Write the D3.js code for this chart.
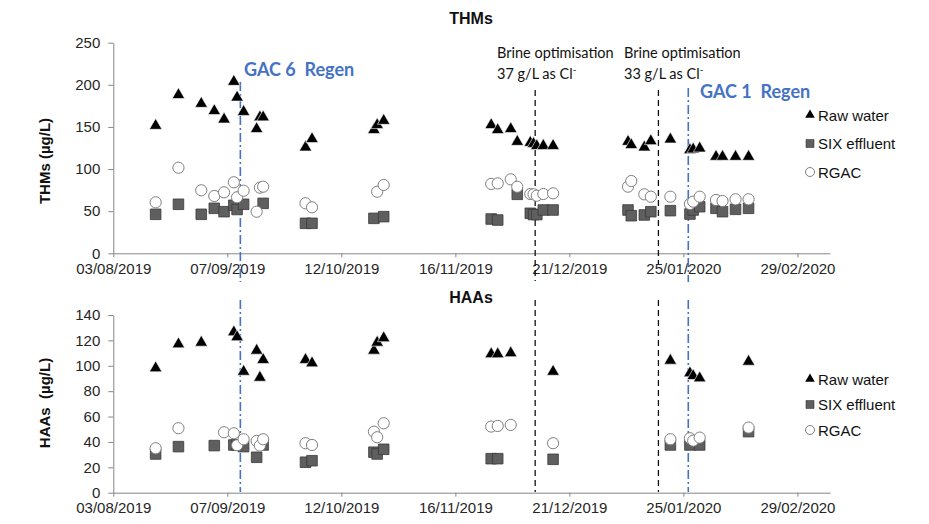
<!DOCTYPE html>
<html>
<head>
<meta charset="utf-8">
<script src="https://cdn.jsdelivr.net/npm/d3@7"></script>
<style>
  body { margin: 0; background: #fff; }
  svg { display: block; }
</style>
</head>
<body>
<div id="chart"></div>
<script>
// ---- data ----
const thmDates = ["2019-08-16","2019-08-23","2019-08-30","2019-09-03","2019-09-06","2019-09-09","2019-09-10",
  "2019-09-12","2019-09-16","2019-09-17","2019-09-18","2019-10-01","2019-10-03","2019-10-22","2019-10-23",
  "2019-10-25","2019-11-27","2019-11-29","2019-12-03","2019-12-05","2019-12-09","2019-12-10","2019-12-11",
  "2019-12-13","2019-12-16","2020-01-08","2020-01-09","2020-01-13","2020-01-15","2020-01-21","2020-01-27",
  "2020-01-28","2020-01-30","2020-02-04","2020-02-06","2020-02-10","2020-02-14"];
const thmRaw = [151.5,188,177.6,169,159,203.7,185,168,147.6,161.5,161.5,125.8,135.7,146.4,152.3,
  157.4,152.3,146.4,147.6,132.5,131.3,130,127.4,127.6,127.6,132.5,128.6,125.8,133.3,135.3,122.6,
  123.4,124.6,114.7,114.7,114.7,114.7];
const thmSix = [46.3,58.2,46.3,53.4,49.4,57,52,58.2,null,null,59.3,35.6,35.6,41.5,null,
  43.5,40.7,39.5,null,70,47.5,46,46,51.4,51.4,51.4,44.6,45.5,49.4,50.6,46.6,
  51.4,55.3,53.4,49.4,52.2,53.4];
const thmRgac = [60.5,101.6,74.8,68,72.4,84.3,66.5,74.3,49.4,77.9,79.1,59.4,54.6,null,73.1,
  81.1,82.3,83,87.8,79,70.4,70,68.4,70.4,71.2,79.1,85.8,70,67.2,67.2,58.5,
  61.3,67.2,63.3,62.1,64.1,64.1];

const haaDates = ["2019-08-16","2019-08-23","2019-08-30","2019-09-03","2019-09-06","2019-09-09","2019-09-10",
  "2019-09-12","2019-09-16","2019-09-17","2019-09-18","2019-10-01","2019-10-03","2019-10-22","2019-10-23",
  "2019-10-25","2019-11-27","2019-11-29","2019-12-03","2019-12-16","2020-01-21","2020-01-27","2020-01-28",
  "2020-01-30","2020-02-14"];
const haaRaw = [98.1,117,118.3,null,null,126.5,122.6,95.4,112,90.7,104.7,104.7,102,112,118.3,
  121.8,109.2,109.2,110,95.4,104.1,94.2,92,90.2,103.3];
const haaSix = [30.5,36.3,null,37.1,null,37.6,37.6,36.3,27.9,null,37.6,24,25.2,31.9,30.5,
  34.2,26.8,26.8,null,26.3,37.6,37.6,null,37.6,48.1];
const haaRgac = [35,50.8,null,null,47.6,46.8,37.4,42.1,40.8,37.1,42.1,39,37.6,48.1,43.7,
  54.7,52.1,52.6,53.4,39,42.1,42.9,41,43.4,51.3];

const xTickDates = ["2019-08-03","2019-09-07","2019-10-12","2019-11-16","2019-12-21","2020-01-25","2020-02-29"];
const xDomain = ["2019-08-03","2020-03-10"];
const thmTicks = [0,50,100,150,200,250];
const haaTicks = [0,20,40,60,80,100,120,140];
const seriesNames = ["Raw water","SIX effluent","RGAC"];
const regenDates = ["2019-09-11","2020-01-26T12:00Z"];
const regenLabels = ["GAC 6  Regen","GAC 1  Regen"];
const brineDates = ["2019-12-10T12:00Z","2020-01-17T08:00Z"];
const brineLabels = [["Brine optimisation","37 g/L as Cl"],["Brine optimisation","33 g/L as Cl"]];

// ---- setup ----
const W = 929, H = 524;
const blue = "#4472C4";
const axisCol = "#868686";
const arial = "'Liberation Sans', Arial, sans-serif";
const parse = d3.isoParse;

const svg = d3.select("#chart").append("svg")
  .attr("width", W).attr("height", H)
  .attr("font-family", arial);

const x = d3.scaleUtc()
  .domain(xDomain.map(parse))
  .range([113.3, 830]);

const triPath = d3.symbol().type(d3.symbolTriangle).size(68)();
const sqPath = d3.symbol().type(d3.symbolSquare).size(112)();

function drawPanel(cfg) {
  const y = d3.scaleLinear().domain(cfg.domain).range(cfg.yRange);
  const g = svg.append("g");

  // x axis
  const xa = g.append("g")
    .attr("transform", `translate(0,${cfg.yRange[0]})`)
    .call(d3.axisBottom(x)
      .tickValues(xTickDates.map(parse))
      .tickFormat(d3.utcFormat("%d/%m/%Y"))
      .tickSize(4).tickSizeOuter(0).tickPadding(6));
  // y axis
  const ya = g.append("g")
    .attr("transform", `translate(${x.range()[0]},0)`)
    .call(d3.axisLeft(y).tickValues(cfg.ticks).tickSize(5).tickSizeOuter(0).tickPadding(8));
  [xa, ya].forEach(a => {
    a.attr("font-family", arial).attr("font-size", 15);
    a.select(".domain").attr("stroke", axisCol);
    a.selectAll(".tick line").attr("stroke", axisCol);
    a.selectAll("text").attr("fill", "#262626");
  });

  // title and y label
  g.append("text").text(cfg.title)
    .attr("x", 471).attr("y", cfg.titleY)
    .attr("text-anchor", "middle").attr("font-weight", "bold")
    .attr("font-size", 16).attr("fill", "#111");
  g.append("text").text(cfg.yLabel)
    .attr("transform", `translate(50,${cfg.yLabelY}) rotate(-90)`)
    .attr("text-anchor", "middle").attr("font-weight", "bold")
    .attr("font-size", 15).attr("fill", "#111")
    .attr("xml:space", "preserve");

  // event lines
  brineDates.forEach((d, i) => {
    g.append("line")
      .attr("x1", x(parse(d))).attr("x2", x(parse(d)))
      .attr("y1", cfg.brine[i][0]).attr("y2", cfg.brine[i][1])
      .attr("stroke", "#111").attr("stroke-width", 1.3)
      .attr("stroke-dasharray", "6,4");
  });
  regenDates.forEach((d, i) => {
    g.append("line")
      .attr("x1", x(parse(d))).attr("x2", x(parse(d)))
      .attr("y1", cfg.regen[i][0]).attr("y2", cfg.regen[i][1])
      .attr("stroke", blue).attr("stroke-width", 1.6)
      .attr("stroke-dasharray", "9,3,2,3");
  });

  const dates = cfg.dates.map(parse);
  const pts = (vals) => vals.map((v, i) => ({ d: dates[i], v })).filter(p => p.v != null);

  // Raw water triangles
  g.selectAll(".raw").data(pts(cfg.raw)).enter().append("path")
    .attr("d", triPath)
    .attr("transform", p => `translate(${x(p.d)},${y(p.v)})`)
    .attr("fill", "#000").attr("stroke", "#fff").attr("stroke-width", 0.6);
  // SIX effluent squares
  g.selectAll(".six").data(pts(cfg.six)).enter().append("path")
    .attr("d", sqPath)
    .attr("transform", p => `translate(${x(p.d)},${y(p.v)})`)
    .attr("fill", "#5f5f5f").attr("stroke", "#3a3a3a").attr("stroke-width", 0.8);
  // RGAC circles
  g.selectAll(".rgac").data(pts(cfg.rgac)).enter().append("circle")
    .attr("cx", p => x(p.d)).attr("cy", p => y(p.v)).attr("r", 5.6)
    .attr("fill", "#fff").attr("stroke", "#7f7f7f").attr("stroke-width", 1);

  // legend
  const lg = g.append("g").attr("transform", `translate(810,${cfg.legendY})`);
  seriesNames.forEach((name, i) => {
    const row = lg.append("g").attr("transform", `translate(0,${i * cfg.legendStep})`);
    if (i === 0) row.append("path").attr("d", d3.symbol().type(d3.symbolTriangle).size(40)()).attr("fill", "#000");
    if (i === 1) row.append("path").attr("d", d3.symbol().type(d3.symbolSquare).size(64)())
      .attr("fill", "#5f5f5f").attr("stroke", "#3a3a3a").attr("stroke-width", 0.6);
    if (i === 2) row.append("circle").attr("r", 4.5).attr("fill", "#fff").attr("stroke", "#7f7f7f");
    row.append("text").text(name).attr("x", 8).attr("y", 5.5)
      .attr("font-size", 15).attr("fill", "#111");
  });
  return g;
}

drawPanel({
  title: "THMs", titleY: 24, yLabel: "THMs (µg/L)", yLabelY: 161,
  domain: [0, 250], yRange: [253.3, 42.7], ticks: thmTicks,
  dates: thmDates, raw: thmRaw, six: thmSix, rgac: thmRgac,
  brine: [[90, 281], [90, 264]], regen: [[82, 282], [88, 282]],
  legendY: 115, legendStep: 28.5
});

drawPanel({
  title: "HAAs", titleY: 303, yLabel: "HAAs  (µg/L)", yLabelY: 403,
  domain: [0, 140], yRange: [492.7, 315], ticks: haaTicks,
  dates: haaDates, raw: haaRaw, six: haaSix, rgac: haaRgac,
  brine: [[300, 492], [300, 492]], regen: [[300, 492], [300, 492]],
  legendY: 379, legendStep: 25.5
});

// annotations in the THMs panel
const ann = svg.append("g");
const regenPos = [[244, 76], [700, 98]];
regenLabels.forEach((t, i) => {
  ann.append("text").text(t)
    .attr("x", regenPos[i][0]).attr("y", regenPos[i][1])
    .attr("font-family", "Lato, sans-serif")
    .attr("fill", blue).attr("font-weight", "bold").attr("font-size", 18)
    .attr("xml:space", "preserve");
});
const brinePos = [497, 624];
brineLabels.forEach((lines, i) => {
  const t = ann.append("text").attr("fill", "#111")
    .attr("font-family", "Lato, sans-serif").attr("font-size", 14.5);
  t.append("tspan").attr("x", brinePos[i]).attr("y", 58).text(lines[0]);
  t.append("tspan").attr("x", brinePos[i]).attr("y", 79).text(lines[1]);
  t.append("tspan").attr("dy", -6).attr("font-size", 10).text("-");
});
</script>
</body>
</html>
